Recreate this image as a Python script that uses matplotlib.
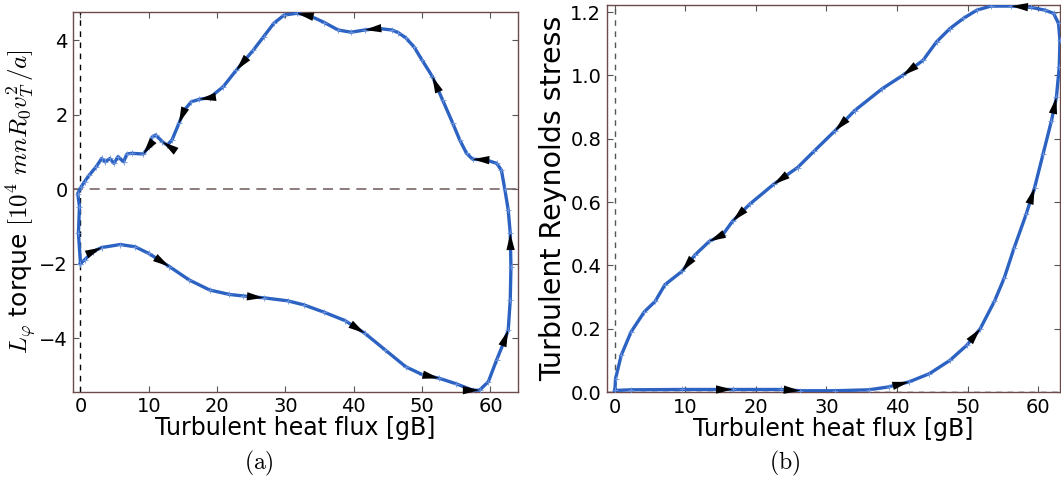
import matplotlib
matplotlib.use('Agg')
import matplotlib.pyplot as plt
import numpy as np

plt.rcParams['mathtext.fontset'] = 'cm'
plt.rcParams['font.family'] = 'DejaVu Sans'

# (a) torque vs heat flux, traced loop
flux_a = [0.0, 0.6, 1.8, 3.1, 5.8, 8.0, 10.0, 13.0, 15.9, 18.9, 21.8, 23.8, 26.8, 30.3,
          32.7, 35.7, 38.7, 41.6, 44.6, 47.6, 50.0, 52.5, 55.0, 57.4, 58.4, 59.7, 60.9,
          61.9, 62.6, 62.9, 63.0, 62.9, 62.6, 62.1, 61.6, 60.9, 59.4, 57.4, 56.5, 55.5,
          54.5, 53.0, 51.5, 50.0, 48.8, 47.6, 46.5, 45.6, 43.6, 41.6, 39.6, 37.7, 35.7,
          33.7, 31.7, 29.8, 28.3, 26.8, 25.3, 22.8, 20.9, 18.9, 17.4, 16.2, 15.2, 14.4,
          13.4, 12.7, 12.0, 11.0, 10.5, 10.0, 9.2, 7.5, 6.8, 6.3, 5.5, 4.9, 4.3, 3.6,
          3.1, 2.3, 1.3, 0.6, 0.1, -0.4, -0.15, -0.3, 0.0]
torque = [-2.0, -1.9, -1.68, -1.57, -1.49, -1.55, -1.73, -2.08, -2.44, -2.71, -2.83,
          -2.87, -2.92, -3.0, -3.11, -3.31, -3.53, -3.87, -4.32, -4.77, -4.98, -5.08,
          -5.23, -5.40, -5.40, -5.17, -4.59, -4.14, -3.79, -2.98, -2.09, -1.19, -0.56,
          0.0, 0.51, 0.69, 0.78, 0.80, 0.96, 1.32, 1.76, 2.39, 3.02, 3.46, 3.82, 4.06,
          4.20, 4.27, 4.31, 4.27, 4.21, 4.27, 4.47, 4.64, 4.72, 4.67, 4.45, 4.09, 3.73,
          3.19, 2.75, 2.45, 2.41, 2.34, 2.12, 1.76, 1.32, 1.18, 1.27, 1.45, 1.40, 1.14,
          0.94, 0.96, 0.94, 0.73, 0.87, 0.69, 0.82, 0.73, 0.82, 0.60, 0.38, 0.2, 0.06,
          -0.12, -0.47, -1.19, -2.0]
arrows_a = [2, 6, 11, 16, 20, 23, 27, 30, 36, 41, 48, 53, 58, 61, 64, 67, 71]

# (b) Reynolds stress vs heat flux, traced loop
flux_b = [0.0, 2.3, 9.5, 16.7, 23.5, 26.3, 31.2, 36.0, 38.8, 41.7, 44.6, 47.5, 49.9,
          51.8, 53.8, 55.2, 56.6, 58.3, 59.5, 60.7, 61.9, 62.6, 63.0, 63.1, 62.9, 62.2,
          61.0, 59.0, 56.2, 53.3, 51.3, 49.4, 47.5, 45.6, 43.7, 40.8, 37.9, 34.0, 31.2,
          28.3, 25.9, 22.5, 19.1, 16.7, 15.3, 13.4, 11.4, 9.5, 7.1, 5.7, 4.2, 2.3, 0.9,
          0.1, 0.0]
stress = [0.005, 0.007, 0.008, 0.008, 0.008, 0.004, 0.004, 0.007, 0.016, 0.032, 0.058,
          0.10, 0.148, 0.20, 0.286, 0.36, 0.455, 0.561, 0.645, 0.751, 0.857, 0.931,
          1.026, 1.111, 1.164, 1.196, 1.206, 1.215, 1.219, 1.219, 1.206, 1.18, 1.148,
          1.106, 1.048, 1.0, 0.958, 0.889, 0.825, 0.762, 0.709, 0.656, 0.593, 0.54,
          0.497, 0.476, 0.434, 0.381, 0.339, 0.286, 0.254, 0.19, 0.116, 0.042, 0.005]
arrows_b = [2, 4, 8, 12, 17, 20, 27, 34, 37, 40, 42, 44, 46]

line_col = '#2c62c2'
spine_col = '#6e4a4a'

fig = plt.figure(figsize=(10.61, 4.8), dpi=100)
ax1 = fig.add_axes([0.0691, 0.184, 0.4189, 0.790])
ax2 = fig.add_axes([0.572, 0.1833, 0.427, 0.806])


def draw_loop(ax, x, y, arrows):
    ax.plot(x, y, color=line_col, lw=2.4, marker='+', ms=4, mec='#6b93dd', mew=0.6,
            zorder=3)
    for i in arrows:
        ax.annotate('', xy=(x[i + 1], y[i + 1]), xytext=(x[i], y[i]),
                    arrowprops=dict(arrowstyle='-|>,head_length=1.2,head_width=0.3',
                                    color='k', lw=0, shrinkA=0, shrinkB=0,
                                    mutation_scale=10), zorder=4)


draw_loop(ax1, flux_a, torque, arrows_a)
ax1.axhline(0, color='#7a6666', ls='--', lw=1.2, dashes=(6, 4))
ax1.axvline(0, color='k', ls='--', lw=1, dashes=(4, 4))
ax1.set_xlim(-1.05, 64)
ax1.set_ylim(-5.44, 4.74)
ax1.set_yticks([-4, -2, 0, 2, 4])
ax1.set_xticks(np.arange(0, 61, 10))
ax1.set_xlabel('Turbulent heat flux [gB]', fontsize=17, labelpad=0)
ax1.set_ylabel(r'$L_\varphi$ torque $[10^4\ mnR_0v_T^2\,/a]$', fontsize=18, labelpad=0)

draw_loop(ax2, flux_b, stress, arrows_b)
ax2.axhline(0, color='k', ls='--', lw=1, dashes=(4, 4))
ax2.axvline(0, color='#555555', ls='--', lw=1, dashes=(4, 4))
ax2.set_xlim(-1.13, 63.1)
ax2.set_ylim(0, 1.222)
ax2.set_yticks([0.0, 0.2, 0.4, 0.6, 0.8, 1.0, 1.2])
ax2.set_xticks(np.arange(0, 61, 10))
ax2.set_xlabel('Turbulent heat flux [gB]', fontsize=17, labelpad=0)
ax2.set_ylabel('Turbulent Reynolds stress', fontsize=20.5, labelpad=2)

for ax in (ax1, ax2):
    for s in ax.spines.values():
        s.set_color(spine_col)
        s.set_linewidth(1.0)
    ax.tick_params(direction='in', top=True, right=True, length=4, width=0.8,
                   color='#555555', labelsize=14, pad=4)

fig.text(0.244, 0.035, r'$\mathrm{(a)}$', fontsize=17, ha='center', va='center')
fig.text(0.739, 0.035, r'$\mathrm{(b)}$', fontsize=17, ha='center', va='center')

fig.savefig('out.png', dpi=100)
